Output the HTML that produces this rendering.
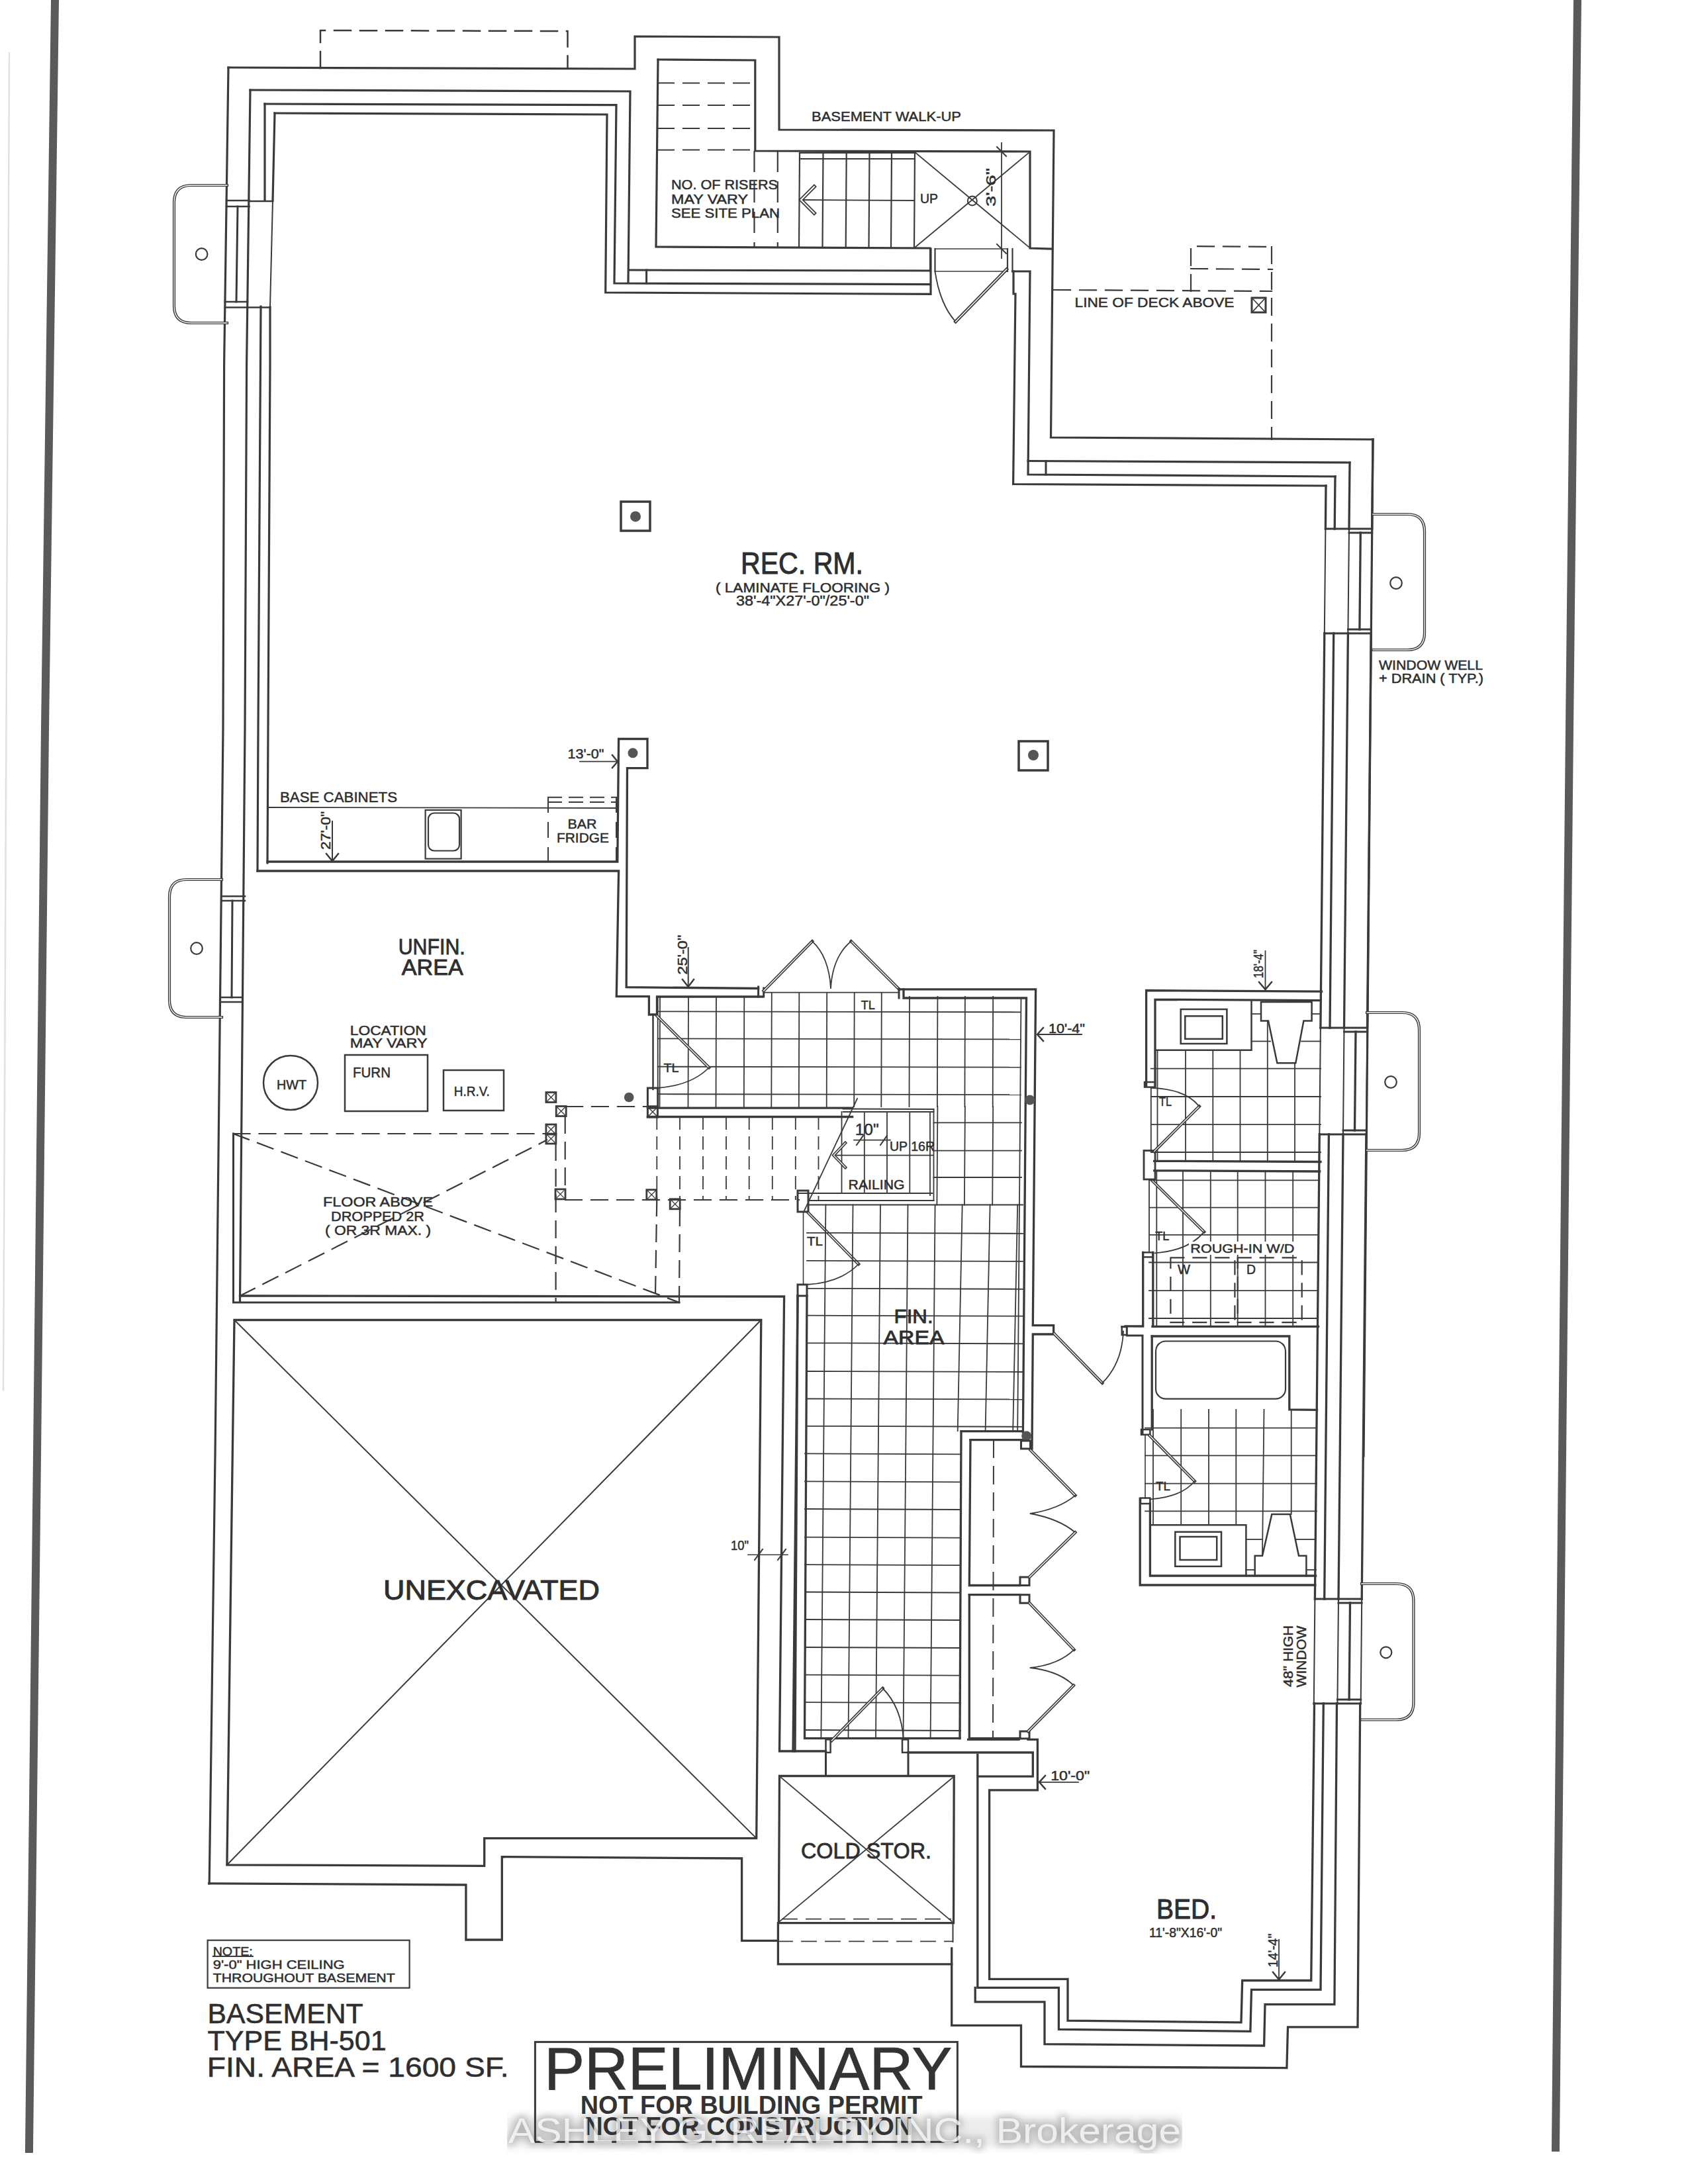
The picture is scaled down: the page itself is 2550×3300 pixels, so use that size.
<!DOCTYPE html>
<html><head><meta charset="utf-8"><style>
html,body{margin:0;padding:0;background:#fff;}
svg{display:block;}
text{font-family:"Liberation Sans",sans-serif;}
</style></head><body>
<svg width="2550" height="3300" viewBox="0 0 2550 3300" stroke-linecap="square">
<rect width="2550" height="3300" fill="#fff"/>
<path d="M83.0 0.0 L68.0 1100.0 L56.0 2200.0 L44.0 3247.0" stroke="#5a5a5a" stroke-width="12" fill="none"/>
<path d="M2383.0 0.0 L2371.0 1100.0 L2360.0 2200.0 L2350.0 3245.0" stroke="#5a5a5a" stroke-width="12" fill="none"/>
<path d="M14.0 80.0 L5.0 2100.0" stroke="#e0e0e0" stroke-width="2.5" fill="none"/>
<path d="M484.0 103.0 L484.0 46.0 L857.5 47.0 L857.5 103.0" stroke="#3a3a3a" stroke-width="2.5" fill="none" stroke-dasharray="25 14"/>
<path d="M345.0 102.0 L959.0 104.0 L959.0 55.0 L1177.0 56.0 L1177.0 196.0 L1592.0 197.0 L1587.5 661.0 L2074.0 664.0" stroke="#3a3a3a" stroke-width="3.2" fill="none"/>
<path d="M345.0 102.0 L338.6 550.0 L337.0 1100.0 L325.0 2200.0 L316.2 2846.0" stroke="#3a3a3a" stroke-width="3.2" fill="none"/>
<path d="M378.0 136.0 L952.0 138.0 L949.0 427.0" stroke="#3a3a3a" stroke-width="3.2" fill="none"/>
<path d="M950.0 408.0 L1405.0 409.0" stroke="#3a3a3a" stroke-width="3" fill="none"/>
<path d="M976.6 408.0 L976.6 428.0" stroke="#3a3a3a" stroke-width="3" fill="none"/>
<path d="M400.0 157.0 L931.0 158.6 L928.0 428.0 L1405.0 429.6" stroke="#3a3a3a" stroke-width="3.2" fill="none"/>
<path d="M415.0 171.0 L917.0 173.0 L914.7 442.0 L1406.0 444.4 L1406.0 376.0" stroke="#3a3a3a" stroke-width="3.2" fill="none"/>
<path d="M378.0 136.0 L372.6 550.0 L370.0 1100.0 L362.5 1966.0" stroke="#3a3a3a" stroke-width="3.2" fill="none"/>
<path d="M400.0 157.0 L400.0 303.0" stroke="#3a3a3a" stroke-width="3.2" fill="none"/>
<path d="M394.0 463.0 L390.0 1100.0 L389.0 1316.0" stroke="#3a3a3a" stroke-width="3.2" fill="none"/>
<path d="M415.0 171.0 L412.0 303.0" stroke="#3a3a3a" stroke-width="3.2" fill="none"/>
<path d="M412.0 303.0 L408.0 464.0" stroke="#3a3a3a" stroke-width="2" fill="none"/>
<path d="M408.0 464.0 L408.0 550.0 L405.0 1100.0 L404.0 1304.0" stroke="#3a3a3a" stroke-width="3.2" fill="none"/>
<path d="M342.0 303.0 L376.6 303.0" stroke="#3a3a3a" stroke-width="2.5" fill="none"/>
<path d="M342.0 312.0 L376.6 312.0" stroke="#3a3a3a" stroke-width="2.5" fill="none"/>
<path d="M376.6 304.0 L412.0 304.0" stroke="#3a3a3a" stroke-width="2.5" fill="none"/>
<path d="M340.0 456.0 L374.0 456.0" stroke="#3a3a3a" stroke-width="2.5" fill="none"/>
<path d="M340.0 464.5 L374.0 464.5" stroke="#3a3a3a" stroke-width="2.5" fill="none"/>
<path d="M374.0 464.5 L408.0 464.5" stroke="#3a3a3a" stroke-width="2.5" fill="none"/>
<path d="M359.0 312.0 L357.0 456.0" stroke="#3a3a3a" stroke-width="3" fill="none"/>
<path d="M343 280 L289 280 Q263 280 263 306 L263 462 Q263 488 289 488 L343 488" stroke="#3a3a3a" stroke-width="4.2" fill="none"/>
<path d="M343 280 L289 280 Q263 280 263 306 L263 462 Q263 488 289 488 L343 488" stroke="#fff" stroke-width="1.3" fill="none"/>
<circle cx="304.6" cy="384" r="8.8" stroke="#3a3a3a" stroke-width="2.2" fill="none"/>
<path d="M994.0 90.0 L1140.8 91.0 L1140.8 228.0 L1556.0 229.0 L1556.0 375.0 L1589.0 376.0" stroke="#3a3a3a" stroke-width="3.2" fill="none"/>
<path d="M994.0 90.0 L991.0 373.0 L1405.0 375.0" stroke="#3a3a3a" stroke-width="3.2" fill="none"/>
<path d="M994.0 125.4 L1140.0 125.4" stroke="#3a3a3a" stroke-width="2" fill="none" stroke-dasharray="24 14"/>
<path d="M994.0 159.0 L1140.0 159.0" stroke="#3a3a3a" stroke-width="2" fill="none" stroke-dasharray="24 14"/>
<path d="M994.0 194.0 L1140.0 194.0" stroke="#3a3a3a" stroke-width="2" fill="none" stroke-dasharray="24 14"/>
<path d="M994.0 226.6 L1140.0 226.6" stroke="#3a3a3a" stroke-width="2" fill="none" stroke-dasharray="24 14"/>
<path d="M1139.5 229.0 L1139.5 373.0" stroke="#3a3a3a" stroke-width="2.2" fill="none" stroke-dasharray="30 16"/>
<path d="M1174.8 229.0 L1174.8 373.0" stroke="#3a3a3a" stroke-width="2.2" fill="none" stroke-dasharray="30 16"/>
<path d="M1208.0 231.0 L1382.0 231.0" stroke="#3a3a3a" stroke-width="2.2" fill="none"/>
<path d="M1208.0 240.0 L1382.0 240.0" stroke="#3a3a3a" stroke-width="2.2" fill="none"/>
<path d="M1208.0 231.0 L1207.0 374.0" stroke="#3a3a3a" stroke-width="2.2" fill="none"/>
<path d="M1243.5 231.0 L1242.5 374.0" stroke="#3a3a3a" stroke-width="2.2" fill="none"/>
<path d="M1278.7 231.0 L1277.7 374.0" stroke="#3a3a3a" stroke-width="2.2" fill="none"/>
<path d="M1313.5 231.0 L1312.5 374.0" stroke="#3a3a3a" stroke-width="2.2" fill="none"/>
<path d="M1347.0 231.0 L1346.0 374.0" stroke="#3a3a3a" stroke-width="2.2" fill="none"/>
<path d="M1382.0 229.0 L1381.0 375.0" stroke="#3a3a3a" stroke-width="2.2" fill="none"/>
<path d="M1209.5 302.0 L1381.0 303.0" stroke="#3a3a3a" stroke-width="1.8" fill="none"/>
<path d="M1230.0 282.0 L1210.0 302.0 L1230.0 322.0" stroke="#3a3a3a" stroke-width="5.5" fill="none"/>
<path d="M1230.0 282.0 L1210.0 302.0 L1230.0 322.0" stroke="#fff" stroke-width="2" fill="none"/>
<path d="M1382.0 230.0 L1554.0 373.0" stroke="#3a3a3a" stroke-width="1.8" fill="none"/>
<path d="M1382.0 374.0 L1554.0 231.0" stroke="#3a3a3a" stroke-width="1.8" fill="none"/>
<circle cx="1468.8" cy="303.4" r="7" stroke="#3a3a3a" stroke-width="2" fill="none"/>
<text x="1390" y="307" font-size="20" text-anchor="start" fill="#2e2e2e" font-weight="normal" textLength="27" lengthAdjust="spacingAndGlyphs" stroke="#2e2e2e" stroke-width="0.5">UP</text>
<path d="M1513.0 216.0 L1513.0 390.0" stroke="#3a3a3a" stroke-width="1.8" fill="none"/>
<path d="M1506.0 222.0 L1520.0 236.0" stroke="#3a3a3a" stroke-width="2" fill="none"/>
<path d="M1506.0 369.0 L1520.0 383.0" stroke="#3a3a3a" stroke-width="2" fill="none"/>
<text x="1504" y="312" font-size="21" text-anchor="start" fill="#2e2e2e" font-weight="normal" textLength="58" lengthAdjust="spacingAndGlyphs" transform="rotate(-90 1504 312)" stroke="#2e2e2e" stroke-width="0.5">3'-6"</text>
<path d="M1405.0 376.0 L1405.0 410.0" stroke="#3a3a3a" stroke-width="2.2" fill="none"/>
<path d="M1412.5 376.0 L1412.5 410.0" stroke="#3a3a3a" stroke-width="2.2" fill="none"/>
<path d="M1522.0 376.0 L1522.0 410.0" stroke="#3a3a3a" stroke-width="2.2" fill="none"/>
<path d="M1529.5 376.0 L1529.5 410.0" stroke="#3a3a3a" stroke-width="2.2" fill="none"/>
<path d="M1412.5 410.0 L1522.0 410.0" stroke="#3a3a3a" stroke-width="1.6" fill="none"/>
<path d="M1412.5 376.0 L1522.0 376.0" stroke="#3a3a3a" stroke-width="1.6" fill="none"/>
<path d="M1529.5 410.0 L1556.0 410.0 L1553.0 717.0 L2017.0 720.0" stroke="#3a3a3a" stroke-width="3.2" fill="none"/>
<path d="M1531.0 410.0 L1531.0 444.0 L1534.0 444.0 L1530.6 731.5 L2003.0 734.0" stroke="#3a3a3a" stroke-width="3.2" fill="none"/>
<path d="M1553.0 696.5 L2039.0 699.0" stroke="#3a3a3a" stroke-width="3.2" fill="none"/>
<path d="M1580.0 696.5 L1580.0 717.0" stroke="#3a3a3a" stroke-width="3" fill="none"/>
<path d="M1412.5 410 Q1420 460 1443.6 486" stroke="#3a3a3a" stroke-width="1.8" fill="none"/>
<path d="M1443.6 486.0 L1520.6 407.0" stroke="#3a3a3a" stroke-width="5" fill="none"/>
<path d="M1443.6 486.0 L1520.6 407.0" stroke="#fff" stroke-width="1.5" fill="none"/>
<text x="1226" y="182.5" font-size="21" text-anchor="start" fill="#2e2e2e" font-weight="normal" textLength="226" lengthAdjust="spacingAndGlyphs" stroke="#2e2e2e" stroke-width="0.5">BASEMENT WALK-UP</text>
<text x="1014" y="286" font-size="20" text-anchor="start" fill="#2e2e2e" font-weight="normal" textLength="161" lengthAdjust="spacingAndGlyphs" stroke="#2e2e2e" stroke-width="0.5">NO. OF RISERS</text>
<text x="1014" y="308" font-size="20" text-anchor="start" fill="#2e2e2e" font-weight="normal" textLength="116" lengthAdjust="spacingAndGlyphs" stroke="#2e2e2e" stroke-width="0.5">MAY VARY</text>
<text x="1014" y="329" font-size="20" text-anchor="start" fill="#2e2e2e" font-weight="normal" textLength="164" lengthAdjust="spacingAndGlyphs" stroke="#2e2e2e" stroke-width="0.5">SEE SITE PLAN</text>
<text x="1623.5" y="463.5" font-size="21" text-anchor="start" fill="#2e2e2e" font-weight="normal" textLength="241" lengthAdjust="spacingAndGlyphs" stroke="#2e2e2e" stroke-width="0.5">LINE OF DECK ABOVE</text>
<path d="M1592.0 438.0 L1921.0 440.0" stroke="#3a3a3a" stroke-width="2.2" fill="none" stroke-dasharray="25 14"/>
<path d="M1921.0 373.0 L1921.0 664.0" stroke="#3a3a3a" stroke-width="2.2" fill="none" stroke-dasharray="25 14"/>
<path d="M1799.0 440.0 L1799.0 372.0 L1923.0 373.0" stroke="#3a3a3a" stroke-width="2.2" fill="none" stroke-dasharray="25 14"/>
<path d="M1799.0 406.0 L1922.0 407.0" stroke="#3a3a3a" stroke-width="2.2" fill="none" stroke-dasharray="25 14"/>
<rect x="1891" y="450" width="21" height="22" rx="0" stroke="#3a3a3a" stroke-width="3" fill="none"/>
<path d="M1893.0 452.0 L1910.0 470.0" stroke="#3a3a3a" stroke-width="1.6" fill="none"/>
<path d="M1910.0 452.0 L1893.0 470.0" stroke="#3a3a3a" stroke-width="1.6" fill="none"/>
<path d="M2074.0 664.0 L2070.0 1100.0 L2060.0 2200.0" stroke="#3a3a3a" stroke-width="3.2" fill="none"/>
<rect x="938" y="758" width="44" height="44" rx="0" stroke="#3a3a3a" stroke-width="3.5" fill="none"/>
<circle cx="960" cy="780.4" r="8" stroke="#3a3a3a" stroke-width="0" fill="#555"/>
<circle cx="956" cy="1137.8" r="7.5" stroke="#3a3a3a" stroke-width="0" fill="#555"/>
<rect x="1539" y="1120" width="44" height="44" rx="0" stroke="#3a3a3a" stroke-width="3.5" fill="none"/>
<circle cx="1561" cy="1141" r="8" stroke="#3a3a3a" stroke-width="0" fill="#555"/>
<text x="1119" y="867" font-size="46" text-anchor="start" fill="#2e2e2e" font-weight="normal" textLength="185" lengthAdjust="spacingAndGlyphs" stroke="#2e2e2e" stroke-width="1">REC. RM.</text>
<text x="1081" y="895" font-size="20" text-anchor="start" fill="#2e2e2e" font-weight="normal" textLength="263" lengthAdjust="spacingAndGlyphs" stroke="#2e2e2e" stroke-width="0.5">( LAMINATE FLOORING )</text>
<text x="1112" y="915" font-size="22" text-anchor="start" fill="#2e2e2e" font-weight="normal" textLength="201" lengthAdjust="spacingAndGlyphs" stroke="#2e2e2e" stroke-width="0.5">38'-4"X27'-0"/25'-0"</text>
<path d="M404.0 1302.0 L932.8 1302.0 L934.6 1116.5 L978.0 1116.5 L978.0 1160.6 L947.5 1160.6 L946.2 1491.6 L1145.6 1493.5" stroke="#3a3a3a" stroke-width="3.3" fill="none"/>
<path d="M389.0 1316.0 L934.6 1316.0 L931.3 1505.7 L980.4 1505.7 L980.4 1533.0 L992.5 1533.0 L992.5 1506.0 L1151.7 1506.0" stroke="#3a3a3a" stroke-width="3.3" fill="none"/>
<path d="M404.0 1220.0 L931.0 1221.0" stroke="#3a3a3a" stroke-width="1.8" fill="none"/>
<text x="423" y="1212" font-size="22" text-anchor="start" fill="#2e2e2e" font-weight="normal" textLength="177" lengthAdjust="spacingAndGlyphs" stroke="#2e2e2e" stroke-width="0.5">BASE CABINETS</text>
<rect x="642.6" y="1224" width="54" height="73.6" rx="0" stroke="#3a3a3a" stroke-width="2.2" fill="none"/>
<rect x="647" y="1228.5" width="47" height="57" rx="9" stroke="#3a3a3a" stroke-width="2.2" fill="none"/>
<text x="499" y="1284" font-size="21" text-anchor="start" fill="#2e2e2e" font-weight="normal" textLength="58" lengthAdjust="spacingAndGlyphs" transform="rotate(-90 499 1284)" stroke="#2e2e2e" stroke-width="0.5">27'-0"</text>
<path d="M502.0 1241.0 L502.0 1301.0" stroke="#3a3a3a" stroke-width="2" fill="none"/>
<path d="M493.0 1290.0 L502.0 1301.0 L511.0 1290.0" stroke="#3a3a3a" stroke-width="2.5" fill="none"/>
<text x="857.5" y="1146" font-size="21" text-anchor="start" fill="#2e2e2e" font-weight="normal" textLength="55" lengthAdjust="spacingAndGlyphs" stroke="#2e2e2e" stroke-width="0.5">13'-0"</text>
<path d="M876.0 1150.7 L932.0 1150.7" stroke="#3a3a3a" stroke-width="1.8" fill="none"/>
<path d="M925.0 1141.0 L933.0 1150.7 L925.0 1160.0" stroke="#3a3a3a" stroke-width="2.5" fill="none"/>
<path d="M828.0 1204.7 L931.0 1204.7" stroke="#3a3a3a" stroke-width="2" fill="none" stroke-dasharray="20 12"/>
<path d="M828.0 1212.0 L931.0 1212.0" stroke="#3a3a3a" stroke-width="2" fill="none" stroke-dasharray="20 12"/>
<path d="M828.0 1205.0 L828.0 1301.0" stroke="#3a3a3a" stroke-width="2" fill="none" stroke-dasharray="22 16"/>
<path d="M931.0 1205.0 L931.0 1301.0" stroke="#3a3a3a" stroke-width="2" fill="none" stroke-dasharray="22 16"/>
<text x="857.5" y="1252.4" font-size="21" text-anchor="start" fill="#2e2e2e" font-weight="normal" textLength="44" lengthAdjust="spacingAndGlyphs" stroke="#2e2e2e" stroke-width="0.5">BAR</text>
<text x="841" y="1273.4" font-size="21" text-anchor="start" fill="#2e2e2e" font-weight="normal" textLength="79" lengthAdjust="spacingAndGlyphs" stroke="#2e2e2e" stroke-width="0.5">FRIDGE</text>
<path d="M1145.6 1491.0 L1145.6 1506.0" stroke="#3a3a3a" stroke-width="3" fill="none"/>
<path d="M1153.7 1493.0 L1153.7 1506.0" stroke="#3a3a3a" stroke-width="3" fill="none"/>
<path d="M1153.7 1497.0 L1227.0 1422.3" stroke="#3a3a3a" stroke-width="4.5" fill="none"/>
<path d="M1153.7 1497.0 L1227.0 1422.3" stroke="#fff" stroke-width="1.3" fill="none"/>
<path d="M1285.8 1422.3 L1358.3 1494.8" stroke="#3a3a3a" stroke-width="4.5" fill="none"/>
<path d="M1285.8 1422.3 L1358.3 1494.8" stroke="#fff" stroke-width="1.3" fill="none"/>
<path d="M1227 1422.3 Q1252 1445 1255 1492.8" stroke="#3a3a3a" stroke-width="1.8" fill="none"/>
<path d="M1285.8 1422.3 Q1258 1445 1255 1492.8" stroke="#3a3a3a" stroke-width="1.8" fill="none"/>
<path d="M1153.7 1499.7 L1358.0 1499.7" stroke="#3a3a3a" stroke-width="1.8" fill="none"/>
<path d="M1358.0 1494.8 L1564.6 1494.8 L1560.3 2002.6 L1591.6 2002.6 L1591.6 2016.0 L1560.3 2016.0 L1559.0 2189.0" stroke="#3a3a3a" stroke-width="3.3" fill="none"/>
<path d="M1358.0 1494.0 L1358.0 1508.0" stroke="#3a3a3a" stroke-width="3" fill="none"/>
<path d="M1365.0 1494.8 L1365.0 1508.0 L1550.5 1508.0 L1545.4 2164.0" stroke="#3a3a3a" stroke-width="3.3" fill="none"/>
<path d="M1542.5 1508.0 L1537.2 2162.0" stroke="#3a3a3a" stroke-width="1.8" fill="none"/>
<text x="1038" y="1472.7" font-size="21" text-anchor="start" fill="#2e2e2e" font-weight="normal" textLength="60" lengthAdjust="spacingAndGlyphs" transform="rotate(-90 1038 1472.7)" stroke="#2e2e2e" stroke-width="0.5">25'-0"</text>
<path d="M1039.7 1432.0 L1039.7 1490.8" stroke="#3a3a3a" stroke-width="2" fill="none"/>
<path d="M1031.0 1480.0 L1039.7 1491.0 L1048.0 1480.0" stroke="#3a3a3a" stroke-width="2.5" fill="none"/>
<text x="1584" y="1561" font-size="20" text-anchor="start" fill="#2e2e2e" font-weight="normal" textLength="55" lengthAdjust="spacingAndGlyphs" stroke="#2e2e2e" stroke-width="0.5">10'-4"</text>
<path d="M1568.0 1563.0 L1634.0 1563.0" stroke="#3a3a3a" stroke-width="1.8" fill="none"/>
<path d="M1576.0 1553.0 L1567.0 1563.0 L1576.0 1573.0" stroke="#3a3a3a" stroke-width="2.5" fill="none"/>
<path d="M997.0 1506.0 L996.5 1672.0" stroke="#3a3a3a" stroke-width="1.8" fill="none"/>
<path d="M1040.0 1506.0 L1039.5 1672.0" stroke="#3a3a3a" stroke-width="1.8" fill="none"/>
<path d="M1082.0 1506.0 L1081.5 1672.0" stroke="#3a3a3a" stroke-width="1.8" fill="none"/>
<path d="M1124.3 1506.0 L1123.8 1672.0" stroke="#3a3a3a" stroke-width="1.8" fill="none"/>
<path d="M1165.8 1500.0 L1165.3 1672.0" stroke="#3a3a3a" stroke-width="1.8" fill="none"/>
<path d="M1207.3 1500.0 L1206.8 1672.0" stroke="#3a3a3a" stroke-width="1.8" fill="none"/>
<path d="M1249.2 1500.0 L1248.7 1672.0" stroke="#3a3a3a" stroke-width="1.8" fill="none"/>
<path d="M1290.7 1500.0 L1290.2 1672.0" stroke="#3a3a3a" stroke-width="1.8" fill="none"/>
<path d="M1331.8 1500.0 L1331.3 1672.0" stroke="#3a3a3a" stroke-width="1.8" fill="none"/>
<path d="M1374.0 1506.0 L1373.5 1672.0" stroke="#3a3a3a" stroke-width="1.8" fill="none"/>
<path d="M1416.4 1506.0 L1415.9 1672.0" stroke="#3a3a3a" stroke-width="1.8" fill="none"/>
<path d="M1457.9 1506.0 L1457.4 1672.0" stroke="#3a3a3a" stroke-width="1.8" fill="none"/>
<path d="M1500.2 1506.0 L1499.7 1672.0" stroke="#3a3a3a" stroke-width="1.8" fill="none"/>
<path d="M993.7 1528.3 L1542.0 1529.3" stroke="#3a3a3a" stroke-width="1.8" fill="none"/>
<path d="M993.7 1569.4 L1542.0 1570.4" stroke="#3a3a3a" stroke-width="1.8" fill="none"/>
<path d="M993.7 1611.7 L1542.0 1612.7" stroke="#3a3a3a" stroke-width="1.8" fill="none"/>
<path d="M993.7 1653.2 L1542.0 1654.2" stroke="#3a3a3a" stroke-width="1.8" fill="none"/>
<path d="M986.5 1533.0 L986.5 1646.0" stroke="#3a3a3a" stroke-width="2.5" fill="none"/>
<path d="M993.7 1506.0 L993.7 1646.0" stroke="#3a3a3a" stroke-width="1.8" fill="none"/>
<rect x="978.4" y="1644" width="15.3" height="28" rx="0" stroke="#3a3a3a" stroke-width="3" fill="none"/>
<path d="M992.5 1535.0 L1071.0 1613.0" stroke="#3a3a3a" stroke-width="4.5" fill="none"/>
<path d="M992.5 1535.0 L1071.0 1613.0" stroke="#fff" stroke-width="1.3" fill="none"/>
<path d="M1071 1613 Q1045 1640 993 1644" stroke="#3a3a3a" stroke-width="1.8" fill="none"/>
<text x="1002.6" y="1619.7" font-size="19" text-anchor="start" fill="#2e2e2e" font-weight="normal" textLength="23" lengthAdjust="spacingAndGlyphs" stroke="#2e2e2e" stroke-width="0.5">TL</text>
<text x="1300.7" y="1525" font-size="19" text-anchor="start" fill="#2e2e2e" font-weight="normal" textLength="21" lengthAdjust="spacingAndGlyphs" stroke="#2e2e2e" stroke-width="0.5">TL</text>
<circle cx="950.2" cy="1658" r="7.3" stroke="#3a3a3a" stroke-width="0" fill="#555"/>
<circle cx="1555.8" cy="1662" r="7.5" stroke="#3a3a3a" stroke-width="0" fill="#555"/>
<path d="M978.4 1674.2 L1287.6 1674.2" stroke="#3a3a3a" stroke-width="3.3" fill="none"/>
<path d="M978.4 1687.5 L1287.6 1687.5" stroke="#3a3a3a" stroke-width="3.3" fill="none"/>
<path d="M1273.6 1675.5 L1410.5 1676.0" stroke="#3a3a3a" stroke-width="1.8" fill="none"/>
<path d="M1273.6 1680.0 L1410.5 1680.0" stroke="#3a3a3a" stroke-width="1.8" fill="none"/>
<path d="M1410.5 1676.0 L1410.5 1814.0" stroke="#3a3a3a" stroke-width="1.8" fill="none"/>
<path d="M1405.0 1680.0 L1405.0 1806.0" stroke="#3a3a3a" stroke-width="1.8" fill="none"/>
<path d="M1207.0 1803.0 L1408.5 1803.0" stroke="#3a3a3a" stroke-width="1.8" fill="none"/>
<path d="M1221.0 1814.0 L1410.5 1814.0" stroke="#3a3a3a" stroke-width="1.8" fill="none"/>
<path d="M1271.5 1680.0 L1271.5 1803.0" stroke="#3a3a3a" stroke-width="1.8" fill="none"/>
<path d="M1305.8 1680.0 L1305.8 1803.0" stroke="#3a3a3a" stroke-width="1.8" fill="none"/>
<path d="M1340.0 1680.0 L1340.0 1803.0" stroke="#3a3a3a" stroke-width="1.8" fill="none"/>
<path d="M1374.3 1680.0 L1374.3 1803.0" stroke="#3a3a3a" stroke-width="1.8" fill="none"/>
<rect x="978.4" y="1672" width="15" height="16" rx="0" stroke="#3a3a3a" stroke-width="3" fill="none"/>
<path d="M979.0 1673.0 L993.0 1687.0" stroke="#3a3a3a" stroke-width="1.4" fill="none"/>
<path d="M993.0 1673.0 L979.0 1687.0" stroke="#3a3a3a" stroke-width="1.4" fill="none"/>
<path d="M992.3 1688.0 L992.3 1812.0" stroke="#3a3a3a" stroke-width="1.8" fill="none" stroke-dasharray="18 12"/>
<path d="M1027.0 1688.0 L1027.0 1812.0" stroke="#3a3a3a" stroke-width="1.8" fill="none" stroke-dasharray="18 12"/>
<path d="M1062.0 1688.0 L1062.0 1812.0" stroke="#3a3a3a" stroke-width="1.8" fill="none" stroke-dasharray="18 12"/>
<path d="M1097.0 1688.0 L1097.0 1812.0" stroke="#3a3a3a" stroke-width="1.8" fill="none" stroke-dasharray="18 12"/>
<path d="M1131.7 1688.0 L1131.7 1812.0" stroke="#3a3a3a" stroke-width="1.8" fill="none" stroke-dasharray="18 12"/>
<path d="M1166.8 1688.0 L1166.8 1812.0" stroke="#3a3a3a" stroke-width="1.8" fill="none" stroke-dasharray="18 12"/>
<path d="M1201.8 1688.0 L1201.8 1812.0" stroke="#3a3a3a" stroke-width="1.8" fill="none" stroke-dasharray="18 12"/>
<path d="M1236.5 1688.0 L1236.5 1812.0" stroke="#3a3a3a" stroke-width="1.8" fill="none" stroke-dasharray="18 12"/>
<path d="M1295.0 1660.0 L1215.0 1829.4" stroke="#3a3a3a" stroke-width="1.8" fill="none"/>
<text x="1291.7" y="1714.5" font-size="24" text-anchor="start" fill="#2e2e2e" font-weight="normal" textLength="36" lengthAdjust="spacingAndGlyphs" stroke="#2e2e2e" stroke-width="0.5">10"</text>
<path d="M1290.0 1722.6 L1345.0 1722.6" stroke="#3a3a3a" stroke-width="1.6" fill="none"/>
<path d="M1294.0 1730.0 L1304.0 1716.0" stroke="#3a3a3a" stroke-width="2" fill="none"/>
<path d="M1330.0 1730.0 L1340.0 1716.0" stroke="#3a3a3a" stroke-width="2" fill="none"/>
<text x="1344" y="1738.7" font-size="20" text-anchor="start" fill="#2e2e2e" font-weight="normal" textLength="68" lengthAdjust="spacingAndGlyphs" stroke="#2e2e2e" stroke-width="0.5">UP 16R</text>
<path d="M1259.4 1745.6 L1410.0 1745.6" stroke="#3a3a3a" stroke-width="1.6" fill="none"/>
<path d="M1277.0 1727.0 L1259.4 1745.6 L1277.0 1764.0" stroke="#3a3a3a" stroke-width="4.5" fill="none"/>
<path d="M1277.0 1727.0 L1259.4 1745.6 L1277.0 1764.0" stroke="#fff" stroke-width="1.3" fill="none"/>
<text x="1281.6" y="1797" font-size="20" text-anchor="start" fill="#2e2e2e" font-weight="normal" textLength="85" lengthAdjust="spacingAndGlyphs" stroke="#2e2e2e" stroke-width="0.5">RAILING</text>
<rect x="824.9" y="1650.5" width="15" height="15" rx="0" stroke="#3a3a3a" stroke-width="2.8" fill="none"/>
<path d="M826.9 1652.5 L837.9 1663.5" stroke="#3a3a3a" stroke-width="1.3" fill="none"/>
<path d="M837.9 1652.5 L826.9 1663.5" stroke="#3a3a3a" stroke-width="1.3" fill="none"/>
<rect x="840.2" y="1671.5" width="15" height="15" rx="0" stroke="#3a3a3a" stroke-width="2.8" fill="none"/>
<path d="M842.2 1673.5 L853.2 1684.5" stroke="#3a3a3a" stroke-width="1.3" fill="none"/>
<path d="M853.2 1673.5 L842.2 1684.5" stroke="#3a3a3a" stroke-width="1.3" fill="none"/>
<rect x="824.9" y="1699.0" width="15" height="15" rx="0" stroke="#3a3a3a" stroke-width="2.8" fill="none"/>
<path d="M826.9 1701.0 L837.9 1712.0" stroke="#3a3a3a" stroke-width="1.3" fill="none"/>
<path d="M837.9 1701.0 L826.9 1712.0" stroke="#3a3a3a" stroke-width="1.3" fill="none"/>
<rect x="824.9" y="1713.1" width="15" height="15" rx="0" stroke="#3a3a3a" stroke-width="2.8" fill="none"/>
<path d="M826.9 1715.1 L837.9 1726.1" stroke="#3a3a3a" stroke-width="1.3" fill="none"/>
<path d="M837.9 1715.1 L826.9 1726.1" stroke="#3a3a3a" stroke-width="1.3" fill="none"/>
<rect x="839.0" y="1796.9" width="15" height="15" rx="0" stroke="#3a3a3a" stroke-width="2.8" fill="none"/>
<path d="M841.0 1798.9 L852.0 1809.9" stroke="#3a3a3a" stroke-width="1.3" fill="none"/>
<path d="M852.0 1798.9 L841.0 1809.9" stroke="#3a3a3a" stroke-width="1.3" fill="none"/>
<rect x="976.8" y="1797.7" width="15" height="15" rx="0" stroke="#3a3a3a" stroke-width="2.8" fill="none"/>
<path d="M978.8 1799.7 L989.8 1810.7" stroke="#3a3a3a" stroke-width="1.3" fill="none"/>
<path d="M989.8 1799.7 L978.8 1810.7" stroke="#3a3a3a" stroke-width="1.3" fill="none"/>
<rect x="1012.2" y="1811.8" width="15" height="15" rx="0" stroke="#3a3a3a" stroke-width="2.8" fill="none"/>
<path d="M1014.2 1813.8 L1025.2 1824.8" stroke="#3a3a3a" stroke-width="1.3" fill="none"/>
<path d="M1025.2 1813.8 L1014.2 1824.8" stroke="#3a3a3a" stroke-width="1.3" fill="none"/>
<rect x="1205" y="1799" width="16" height="32" rx="0" stroke="#3a3a3a" stroke-width="3" fill="none"/>
<path d="M1221.0 1832.6 L1297.0 1910.0" stroke="#3a3a3a" stroke-width="4.5" fill="none"/>
<path d="M1221.0 1832.6 L1297.0 1910.0" stroke="#fff" stroke-width="1.3" fill="none"/>
<path d="M1297 1910 Q1270 1938 1219 1941" stroke="#3a3a3a" stroke-width="1.8" fill="none"/>
<text x="1219" y="1881.7" font-size="19" text-anchor="start" fill="#2e2e2e" font-weight="normal" textLength="24" lengthAdjust="spacingAndGlyphs" stroke="#2e2e2e" stroke-width="0.5">TL</text>
<path d="M1213.5 1831.0 L1213.5 1941.0" stroke="#3a3a3a" stroke-width="1.6" fill="none"/>
<rect x="1205" y="1941" width="14" height="17" rx="0" stroke="#3a3a3a" stroke-width="3" fill="none"/>
<path d="M1205.0 1958.0 L1201.0 2646.0" stroke="#3a3a3a" stroke-width="3.3" fill="none"/>
<path d="M1219.0 1958.0 L1215.5 2626.6 L1450.0 2626.6" stroke="#3a3a3a" stroke-width="3.3" fill="none"/>
<path d="M1247.4 1820.5 L1240.4 2626.0" stroke="#3a3a3a" stroke-width="1.8" fill="none"/>
<path d="M1288.5 1820.5 L1281.5 2626.0" stroke="#3a3a3a" stroke-width="1.8" fill="none"/>
<path d="M1330.0 1820.5 L1323.0 2626.0" stroke="#3a3a3a" stroke-width="1.8" fill="none"/>
<path d="M1371.5 1820.5 L1364.5 2626.0" stroke="#3a3a3a" stroke-width="1.8" fill="none"/>
<path d="M1412.6 1820.5 L1405.6 2626.0" stroke="#3a3a3a" stroke-width="1.8" fill="none"/>
<path d="M1453.7 1820.5 L1446.7 2162.0" stroke="#3a3a3a" stroke-width="1.8" fill="none"/>
<path d="M1495.6 1820.5 L1488.6 2162.0" stroke="#3a3a3a" stroke-width="1.8" fill="none"/>
<path d="M1537.2 1820.5 L1530.2 2162.0" stroke="#3a3a3a" stroke-width="1.8" fill="none"/>
<path d="M1221.0 1820.5 L1545.0 1820.5" stroke="#3a3a3a" stroke-width="1.8" fill="none"/>
<path d="M1219.0 1862.8 L1545.0 1863.8" stroke="#3a3a3a" stroke-width="1.8" fill="none"/>
<path d="M1219.0 1904.9 L1545.0 1905.9" stroke="#3a3a3a" stroke-width="1.8" fill="none"/>
<path d="M1219.0 1946.8 L1545.0 1947.8" stroke="#3a3a3a" stroke-width="1.8" fill="none"/>
<path d="M1219.0 1987.7 L1545.0 1988.7" stroke="#3a3a3a" stroke-width="1.8" fill="none"/>
<path d="M1219.0 2029.3 L1545.0 2030.3" stroke="#3a3a3a" stroke-width="1.8" fill="none"/>
<path d="M1219.0 2072.0 L1545.0 2073.0" stroke="#3a3a3a" stroke-width="1.8" fill="none"/>
<path d="M1219.0 2113.5 L1545.0 2114.5" stroke="#3a3a3a" stroke-width="1.8" fill="none"/>
<path d="M1219.0 2154.8 L1545.0 2155.8" stroke="#3a3a3a" stroke-width="1.8" fill="none"/>
<path d="M1216.0 2196.4 L1451.0 2197.4" stroke="#3a3a3a" stroke-width="1.8" fill="none"/>
<path d="M1216.0 2238.3 L1451.0 2239.3" stroke="#3a3a3a" stroke-width="1.8" fill="none"/>
<path d="M1216.0 2280.0 L1451.0 2281.0" stroke="#3a3a3a" stroke-width="1.8" fill="none"/>
<path d="M1216.0 2322.7 L1451.0 2323.7" stroke="#3a3a3a" stroke-width="1.8" fill="none"/>
<path d="M1216.0 2364.2 L1451.0 2365.2" stroke="#3a3a3a" stroke-width="1.8" fill="none"/>
<path d="M1216.0 2405.5 L1451.0 2406.5" stroke="#3a3a3a" stroke-width="1.8" fill="none"/>
<path d="M1216.0 2447.0 L1451.0 2448.0" stroke="#3a3a3a" stroke-width="1.8" fill="none"/>
<path d="M1216.0 2489.0 L1451.0 2490.0" stroke="#3a3a3a" stroke-width="1.8" fill="none"/>
<path d="M1216.0 2530.6 L1451.0 2531.6" stroke="#3a3a3a" stroke-width="1.8" fill="none"/>
<path d="M1216.0 2572.2 L1451.0 2573.2" stroke="#3a3a3a" stroke-width="1.8" fill="none"/>
<path d="M1216.0 2614.0 L1451.0 2615.0" stroke="#3a3a3a" stroke-width="1.8" fill="none"/>
<text x="1350.6" y="1999" font-size="29" text-anchor="start" fill="#2e2e2e" font-weight="normal" textLength="59" lengthAdjust="spacingAndGlyphs" stroke="#2e2e2e" stroke-width="0.8">FIN.</text>
<text x="1334.6" y="2031" font-size="29" text-anchor="start" fill="#2e2e2e" font-weight="normal" textLength="92" lengthAdjust="spacingAndGlyphs" stroke="#2e2e2e" stroke-width="0.8">AREA</text>
<path d="M1452.0 2162.6 L1545.4 2162.6" stroke="#3a3a3a" stroke-width="3.3" fill="none"/>
<path d="M1452.0 2162.6 L1450.0 2626.6" stroke="#3a3a3a" stroke-width="3.3" fill="none"/>
<path d="M1466.0 2175.7 L1545.0 2175.7" stroke="#3a3a3a" stroke-width="3.3" fill="none"/>
<path d="M1466.0 2175.7 L1464.3 2395.5 L1540.8 2395.5" stroke="#3a3a3a" stroke-width="3.3" fill="none"/>
<path d="M1464.3 2409.7 L1540.8 2409.7" stroke="#3a3a3a" stroke-width="3.3" fill="none"/>
<path d="M1464.3 2409.7 L1464.3 2626.6 L1540.8 2626.6" stroke="#3a3a3a" stroke-width="3.3" fill="none"/>
<path d="M1501.0 2176.0 L1500.0 2626.0" stroke="#3a3a3a" stroke-width="2" fill="none" stroke-dasharray="26 14"/>
<circle cx="1550.7" cy="2169.7" r="7.5" stroke="#3a3a3a" stroke-width="0" fill="#555"/>
<rect x="1542.5" y="2177" width="14" height="12" rx="0" stroke="#3a3a3a" stroke-width="3" fill="none"/>
<rect x="1541" y="2383" width="14" height="12.5" rx="0" stroke="#3a3a3a" stroke-width="3" fill="none"/>
<rect x="1541" y="2409.7" width="14" height="12.5" rx="0" stroke="#3a3a3a" stroke-width="3" fill="none"/>
<rect x="1541" y="2616" width="14" height="11" rx="0" stroke="#3a3a3a" stroke-width="3" fill="none"/>
<path d="M1556.7 2191.0 L1624.3 2259.6" stroke="#3a3a3a" stroke-width="4.5" fill="none"/>
<path d="M1556.7 2191.0 L1624.3 2259.6" stroke="#fff" stroke-width="1.3" fill="none"/>
<path d="M1624.3 2259.6 Q1600 2280 1556.7 2287" stroke="#3a3a3a" stroke-width="1.8" fill="none"/>
<path d="M1556.7 2287 Q1600 2295 1624.3 2315.5" stroke="#3a3a3a" stroke-width="1.8" fill="none"/>
<path d="M1555.0 2383.0 L1624.3 2315.5" stroke="#3a3a3a" stroke-width="4.5" fill="none"/>
<path d="M1555.0 2383.0 L1624.3 2315.5" stroke="#fff" stroke-width="1.3" fill="none"/>
<path d="M1555.0 2422.0 L1622.5 2492.6" stroke="#3a3a3a" stroke-width="4.5" fill="none"/>
<path d="M1555.0 2422.0 L1622.5 2492.6" stroke="#fff" stroke-width="1.3" fill="none"/>
<path d="M1622.5 2492.6 Q1600 2515 1556.7 2520" stroke="#3a3a3a" stroke-width="1.8" fill="none"/>
<path d="M1556.7 2520 Q1600 2525 1621.8 2546.6" stroke="#3a3a3a" stroke-width="1.8" fill="none"/>
<path d="M1621.8 2546.6 L1553.2 2616.0" stroke="#3a3a3a" stroke-width="4.5" fill="none"/>
<path d="M1621.8 2546.6 L1553.2 2616.0" stroke="#fff" stroke-width="1.3" fill="none"/>
<path d="M1592.3 2015.0 L1665.2 2089.7" stroke="#3a3a3a" stroke-width="4.5" fill="none"/>
<path d="M1592.3 2015.0 L1665.2 2089.7" stroke="#fff" stroke-width="1.3" fill="none"/>
<path d="M1665.2 2089.7 Q1695 2060 1697 2011.5" stroke="#3a3a3a" stroke-width="1.8" fill="none"/>
<path d="M1416.4 1672.0 L1415.4 1820.5" stroke="#3a3a3a" stroke-width="1.8" fill="none"/>
<path d="M1457.9 1672.0 L1456.9 1820.5" stroke="#3a3a3a" stroke-width="1.8" fill="none"/>
<path d="M1500.2 1672.0 L1499.2 1820.5" stroke="#3a3a3a" stroke-width="1.8" fill="none"/>
<path d="M1410.5 1696.4 L1543.0 1696.4" stroke="#3a3a3a" stroke-width="1.8" fill="none"/>
<path d="M1410.5 1738.7 L1543.0 1738.7" stroke="#3a3a3a" stroke-width="1.8" fill="none"/>
<path d="M1410.5 1779.0 L1543.0 1779.0" stroke="#3a3a3a" stroke-width="1.8" fill="none"/>
<path d="M336.4 1354.3 L370.0 1354.3" stroke="#3a3a3a" stroke-width="2.5" fill="none"/>
<path d="M336.0 1361.0 L370.0 1361.0" stroke="#3a3a3a" stroke-width="2.5" fill="none"/>
<path d="M333.3 1507.0 L366.6 1507.0" stroke="#3a3a3a" stroke-width="2.5" fill="none"/>
<path d="M333.3 1514.0 L366.6 1514.0" stroke="#3a3a3a" stroke-width="2.5" fill="none"/>
<path d="M351.0 1361.0 L350.0 1507.0" stroke="#3a3a3a" stroke-width="3" fill="none"/>
<path d="M335 1329 L282 1329 Q256 1329 256 1355 L256 1511 Q256 1537 282 1537 L335 1537" stroke="#3a3a3a" stroke-width="4.2" fill="none"/>
<path d="M335 1329 L282 1329 Q256 1329 256 1355 L256 1511 Q256 1537 282 1537 L335 1537" stroke="#fff" stroke-width="1.3" fill="none"/>
<circle cx="297" cy="1433" r="8.8" stroke="#3a3a3a" stroke-width="2.2" fill="none"/>
<text x="601.7" y="1442.4" font-size="34" text-anchor="start" fill="#2e2e2e" font-weight="normal" textLength="101" lengthAdjust="spacingAndGlyphs" stroke="#2e2e2e" stroke-width="0.9">UNFIN.</text>
<text x="606.7" y="1472.6" font-size="34" text-anchor="start" fill="#2e2e2e" font-weight="normal" textLength="93" lengthAdjust="spacingAndGlyphs" stroke="#2e2e2e" stroke-width="0.9">AREA</text>
<text x="528.7" y="1564" font-size="21" text-anchor="start" fill="#2e2e2e" font-weight="normal" textLength="115" lengthAdjust="spacingAndGlyphs" stroke="#2e2e2e" stroke-width="0.5">LOCATION</text>
<text x="528.7" y="1583" font-size="21" text-anchor="start" fill="#2e2e2e" font-weight="normal" textLength="117" lengthAdjust="spacingAndGlyphs" stroke="#2e2e2e" stroke-width="0.5">MAY VARY</text>
<circle cx="439" cy="1636" r="41" stroke="#3a3a3a" stroke-width="2.5" fill="none"/>
<text x="418" y="1646" font-size="20" text-anchor="start" fill="#2e2e2e" font-weight="normal" textLength="45" lengthAdjust="spacingAndGlyphs" stroke="#2e2e2e" stroke-width="0.5">HWT</text>
<rect x="521" y="1594" width="125" height="85" rx="0" stroke="#3a3a3a" stroke-width="2.5" fill="none"/>
<text x="533" y="1628" font-size="22" text-anchor="start" fill="#2e2e2e" font-weight="normal" textLength="57" lengthAdjust="spacingAndGlyphs" stroke="#2e2e2e" stroke-width="0.5">FURN</text>
<rect x="670" y="1617" width="91" height="61" rx="0" stroke="#3a3a3a" stroke-width="2.5" fill="none"/>
<text x="685.8" y="1656" font-size="20" text-anchor="start" fill="#2e2e2e" font-weight="normal" textLength="54" lengthAdjust="spacingAndGlyphs" stroke="#2e2e2e" stroke-width="0.5">H.R.V.</text>
<path d="M352.5 1713.0 L825.0 1713.0" stroke="#3a3a3a" stroke-width="2.2" fill="none" stroke-dasharray="25 14"/>
<path d="M855.0 1672.0 L977.0 1672.0" stroke="#3a3a3a" stroke-width="2.2" fill="none" stroke-dasharray="25 14"/>
<path d="M839.6 1728.0 L839.6 1968.0" stroke="#3a3a3a" stroke-width="2.2" fill="none" stroke-dasharray="25 14"/>
<path d="M853.7 1687.0 L853.7 1797.0" stroke="#3a3a3a" stroke-width="2.2" fill="none" stroke-dasharray="25 14"/>
<path d="M854.0 1813.0 L1207.0 1813.0" stroke="#3a3a3a" stroke-width="2.2" fill="none" stroke-dasharray="25 14"/>
<path d="M992.3 1812.0 L990.0 1958.0" stroke="#3a3a3a" stroke-width="2.2" fill="none" stroke-dasharray="25 14"/>
<path d="M1027.0 1827.0 L1026.0 1968.0" stroke="#3a3a3a" stroke-width="2.2" fill="none" stroke-dasharray="25 14"/>
<path d="M352.5 1713.0 L1026.0 1968.0" stroke="#3a3a3a" stroke-width="2.2" fill="none" stroke-dasharray="25 14"/>
<path d="M362.5 1958.0 L826.0 1722.6" stroke="#3a3a3a" stroke-width="2.2" fill="none" stroke-dasharray="25 14"/>
<path d="M352.5 1713.0 L352.5 1968.0 L1026.0 1968.0" stroke="#3a3a3a" stroke-width="3" fill="none"/>
<path d="M362.5 1958.0 L1184.6 1959.0 L1177.5 2646.0 L1247.5 2646.0" stroke="#3a3a3a" stroke-width="3.3" fill="none"/>
<text x="488" y="1823" font-size="21" text-anchor="start" fill="#2e2e2e" font-weight="normal" textLength="166" lengthAdjust="spacingAndGlyphs" stroke="#2e2e2e" stroke-width="0.5">FLOOR ABOVE</text>
<text x="500" y="1845" font-size="21" text-anchor="start" fill="#2e2e2e" font-weight="normal" textLength="141" lengthAdjust="spacingAndGlyphs" stroke="#2e2e2e" stroke-width="0.5">DROPPED 2R</text>
<text x="491" y="1866" font-size="21" text-anchor="start" fill="#2e2e2e" font-weight="normal" textLength="160" lengthAdjust="spacingAndGlyphs" stroke="#2e2e2e" stroke-width="0.5">( OR 3R MAX. )</text>
<path d="M354.0 1994.5 L1149.8 1994.5 L1142.7 2777.7 L731.7 2777.7 L731.7 2819.3 L342.9 2817.8 L354.0 1994.5" stroke="#3a3a3a" stroke-width="3.3" fill="none"/>
<path d="M354.0 1994.5 L1142.7 2777.7" stroke="#3a3a3a" stroke-width="2" fill="none"/>
<path d="M342.9 2817.8 L1149.8 1994.5" stroke="#3a3a3a" stroke-width="2" fill="none"/>
<path d="M315.7 2845.9 L703.9 2848.0 L703.9 2931.0 L758.3 2931.0 L758.3 2805.7 L1120.6 2808.0 L1120.6 2932.4 L1174.6 2932.4" stroke="#3a3a3a" stroke-width="3.3" fill="none"/>
<text x="579" y="2416.5" font-size="42" text-anchor="start" fill="#2e2e2e" font-weight="normal" textLength="327" lengthAdjust="spacingAndGlyphs" stroke="#2e2e2e" stroke-width="1">UNEXCAVATED</text>
<text x="1104" y="2342" font-size="21" text-anchor="start" fill="#2e2e2e" font-weight="normal" textLength="27" lengthAdjust="spacingAndGlyphs" stroke="#2e2e2e" stroke-width="0.5">10"</text>
<path d="M1130.0 2349.3 L1190.0 2349.3" stroke="#3a3a3a" stroke-width="1.6" fill="none"/>
<path d="M1140.0 2357.0 L1152.0 2341.0" stroke="#3a3a3a" stroke-width="2" fill="none"/>
<path d="M1175.0 2357.0 L1187.0 2341.0" stroke="#3a3a3a" stroke-width="2" fill="none"/>
<path d="M1198.0 2646.0 L1205.0 1958.0" stroke="#3a3a3a" stroke-width="3.3" fill="none"/>
<path d="M1247.5 2648.0 L1247.5 2683.5" stroke="#3a3a3a" stroke-width="3" fill="none"/>
<path d="M1372.0 2648.0 L1372.0 2683.5" stroke="#3a3a3a" stroke-width="3" fill="none"/>
<rect x="1247.5" y="2628.4" width="7.1" height="19.6" rx="0" stroke="#3a3a3a" stroke-width="2.5" fill="none"/>
<rect x="1363" y="2628.4" width="9" height="19.6" rx="0" stroke="#3a3a3a" stroke-width="2.5" fill="none"/>
<path d="M1372.0 2648.0 L1560.3 2648.0 L1560.3 2684.2 L1476.8 2684.2" stroke="#3a3a3a" stroke-width="3.3" fill="none"/>
<path d="M1177.5 2683.5 L1441.2 2683.5 L1440.5 2905.7 L1176.4 2905.7 L1177.5 2683.5" stroke="#3a3a3a" stroke-width="3.3" fill="none"/>
<path d="M1180.0 2686.0 L1437.7 2903.0" stroke="#3a3a3a" stroke-width="1.8" fill="none"/>
<path d="M1439.0 2686.0 L1178.0 2903.0" stroke="#3a3a3a" stroke-width="1.8" fill="none"/>
<path d="M1182.0 2899.6 L1436.0 2899.6" stroke="#3a3a3a" stroke-width="1.8" fill="none" stroke-dasharray="22 14"/>
<path d="M1175.4 2905.7 L1175.4 2967.9 L1437.7 2967.9" stroke="#3a3a3a" stroke-width="3.3" fill="none"/>
<path d="M1175.0 2933.4 L1439.0 2933.4" stroke="#3a3a3a" stroke-width="1.8" fill="none" stroke-dasharray="22 14"/>
<path d="M1439.5 2905.7 L1439.5 2934.0" stroke="#3a3a3a" stroke-width="2" fill="none"/>
<text x="1210" y="2808" font-size="33" text-anchor="start" fill="#2e2e2e" font-weight="normal" textLength="197" lengthAdjust="spacingAndGlyphs" stroke="#2e2e2e" stroke-width="0.8">COLD STOR.</text>
<path d="M1256.4 2630.0 L1333.5 2551.0" stroke="#3a3a3a" stroke-width="4.5" fill="none"/>
<path d="M1256.4 2630.0 L1333.5 2551.0" stroke="#fff" stroke-width="1.3" fill="none"/>
<path d="M1333.5 2551 Q1362 2580 1364.8 2628.3" stroke="#3a3a3a" stroke-width="1.8" fill="none"/>
<path d="M1462.6 2628.4 L1539.0 2628.4" stroke="#3a3a3a" stroke-width="3.3" fill="none"/>
<path d="M1553.0 2628.4 L1567.4 2628.4 L1567.4 2704.9 L1494.6 2704.9 L1494.6 2990.3 L1613.0 2990.3 L1613.0 3053.2 L1875.0 3055.8 L1876.7 2992.5 L1980.7 2992.5 L1985.5 2574.0" stroke="#3a3a3a" stroke-width="3.3" fill="none"/>
<path d="M1476.8 2651.5 L1476.8 3003.4 L1599.4 3003.4 L1599.4 3066.4 L1888.9 3069.3 L1890.5 3006.3 L1995.0 3006.3 L1999.3 2574.0" stroke="#3a3a3a" stroke-width="3.3" fill="none"/>
<path d="M1473.2 3003.4 L1473.2 3024.8 L1578.0 3024.8 L1578.0 3088.7 L1909.6 3091.0 L1911.0 3028.6 L2015.9 3028.6 L2019.5 2574.0" stroke="#3a3a3a" stroke-width="3.3" fill="none"/>
<path d="M1437.7 2944.0 L1437.7 3060.3 L1542.5 3060.3 L1542.5 3122.5 L1943.9 3124.6 L1945.5 3062.9 L2051.0 3062.9 L2054.7 2574.0" stroke="#3a3a3a" stroke-width="3.3" fill="none"/>
<text x="1747" y="2898.5" font-size="42" text-anchor="start" fill="#2e2e2e" font-weight="normal" textLength="91" lengthAdjust="spacingAndGlyphs" stroke="#2e2e2e" stroke-width="1">BED.</text>
<text x="1736" y="2927.2" font-size="21" text-anchor="start" fill="#2e2e2e" font-weight="normal" textLength="110" lengthAdjust="spacingAndGlyphs" stroke="#2e2e2e" stroke-width="0.5">11'-8"X16'-0"</text>
<text x="1930" y="2972.7" font-size="21" text-anchor="start" fill="#2e2e2e" font-weight="normal" textLength="51" lengthAdjust="spacingAndGlyphs" transform="rotate(-90 1930 2972.7)" stroke="#2e2e2e" stroke-width="0.5">14'-4"</text>
<path d="M1932.0 2931.0 L1932.0 2990.0" stroke="#3a3a3a" stroke-width="1.8" fill="none"/>
<path d="M1923.0 2980.0 L1932.0 2991.0 L1941.0 2980.0" stroke="#3a3a3a" stroke-width="2.5" fill="none"/>
<text x="1587.2" y="2689.6" font-size="20" text-anchor="start" fill="#2e2e2e" font-weight="normal" textLength="59" lengthAdjust="spacingAndGlyphs" stroke="#2e2e2e" stroke-width="0.5">10'-0"</text>
<path d="M1570.0 2692.8 L1629.0 2692.8" stroke="#3a3a3a" stroke-width="1.8" fill="none"/>
<path d="M1579.0 2683.0 L1570.0 2692.8 L1579.0 2703.0" stroke="#3a3a3a" stroke-width="2.5" fill="none"/>
<path d="M2074.0 664.0 L2072.7 799.0" stroke="#3a3a3a" stroke-width="3.3" fill="none"/>
<path d="M2072.7 799.0 L2071.2 957.0" stroke="#3a3a3a" stroke-width="2" fill="none"/>
<path d="M2071.2 957.0 L2065.5 1553.0" stroke="#3a3a3a" stroke-width="3.3" fill="none"/>
<path d="M2065.5 1553.0 L2063.9 1714.0" stroke="#3a3a3a" stroke-width="2" fill="none"/>
<path d="M2063.9 1714.0 L2057.2 2416.0" stroke="#3a3a3a" stroke-width="3.3" fill="none"/>
<path d="M2057.2 2416.0 L2055.7 2574.0" stroke="#3a3a3a" stroke-width="2" fill="none"/>
<path d="M2003.0 734.0 L2002.4 799.0" stroke="#3a3a3a" stroke-width="3.3" fill="none"/>
<path d="M2002.4 799.0 L2000.8 957.0" stroke="#3a3a3a" stroke-width="2" fill="none"/>
<path d="M2000.8 957.0 L1994.9 1553.0" stroke="#3a3a3a" stroke-width="3.3" fill="none"/>
<path d="M1994.9 1553.0 L1993.3 1714.0" stroke="#3a3a3a" stroke-width="2" fill="none"/>
<path d="M1993.3 1714.0 L1986.4 2416.0" stroke="#3a3a3a" stroke-width="3.3" fill="none"/>
<path d="M1986.4 2416.0 L1984.8 2574.0" stroke="#3a3a3a" stroke-width="2" fill="none"/>
<path d="M2017.0 720.0 L2016.2 799.0" stroke="#3a3a3a" stroke-width="3.3" fill="none"/>
<path d="M2014.7 957.0 L2009.0 1553.0" stroke="#3a3a3a" stroke-width="3.3" fill="none"/>
<path d="M2007.4 1714.0 L2000.7 2416.0" stroke="#3a3a3a" stroke-width="3.3" fill="none"/>
<path d="M2039.0 699.0 L2038.0 799.0" stroke="#3a3a3a" stroke-width="3.3" fill="none"/>
<path d="M2038.0 799.0 L2036.4 957.0" stroke="#3a3a3a" stroke-width="2" fill="none"/>
<path d="M2036.4 957.0 L2030.5 1553.0" stroke="#3a3a3a" stroke-width="3.3" fill="none"/>
<path d="M2030.5 1553.0 L2029.0 1714.0" stroke="#3a3a3a" stroke-width="2" fill="none"/>
<path d="M2029.0 1714.0 L2022.0 2416.0" stroke="#3a3a3a" stroke-width="3.3" fill="none"/>
<path d="M2022.0 2416.0 L2020.4 2574.0" stroke="#3a3a3a" stroke-width="2" fill="none"/>
<path d="M2002.4 799.0 L2038.0 799.0" stroke="#3a3a3a" stroke-width="3" fill="none"/>
<path d="M2038.0 799.0 L2072.7 799.0" stroke="#3a3a3a" stroke-width="3" fill="none"/>
<path d="M2038.0 805.0 L2072.6 805.0" stroke="#3a3a3a" stroke-width="3" fill="none"/>
<path d="M2000.8 957.0 L2036.4 957.0" stroke="#3a3a3a" stroke-width="3" fill="none"/>
<path d="M2036.4 957.0 L2071.2 957.0" stroke="#3a3a3a" stroke-width="3" fill="none"/>
<path d="M2036.5 951.0 L2071.2 951.0" stroke="#3a3a3a" stroke-width="3" fill="none"/>
<path d="M2055.3 805.0 L2053.9 951.0" stroke="#3a3a3a" stroke-width="3.3" fill="none"/>
<path d="M1994.9 1553.0 L2030.5 1553.0" stroke="#3a3a3a" stroke-width="3" fill="none"/>
<path d="M2030.5 1553.0 L2065.5 1553.0" stroke="#3a3a3a" stroke-width="3" fill="none"/>
<path d="M2030.5 1559.0 L2065.4 1559.0" stroke="#3a3a3a" stroke-width="3" fill="none"/>
<path d="M1993.3 1714.0 L2029.0 1714.0" stroke="#3a3a3a" stroke-width="3" fill="none"/>
<path d="M2029.0 1714.0 L2063.9 1714.0" stroke="#3a3a3a" stroke-width="3" fill="none"/>
<path d="M2029.0 1708.0 L2064.0 1708.0" stroke="#3a3a3a" stroke-width="3" fill="none"/>
<path d="M2048.0 1559.0 L2046.5 1708.0" stroke="#3a3a3a" stroke-width="3.3" fill="none"/>
<path d="M1986.4 2416.0 L2022.0 2416.0" stroke="#3a3a3a" stroke-width="3" fill="none"/>
<path d="M2022.0 2416.0 L2057.2 2416.0" stroke="#3a3a3a" stroke-width="3" fill="none"/>
<path d="M2021.9 2422.0 L2057.1 2422.0" stroke="#3a3a3a" stroke-width="3" fill="none"/>
<path d="M1984.8 2574.0 L2020.4 2574.0" stroke="#3a3a3a" stroke-width="3" fill="none"/>
<path d="M2020.4 2574.0 L2055.7 2574.0" stroke="#3a3a3a" stroke-width="3" fill="none"/>
<path d="M2020.5 2568.0 L2055.7 2568.0" stroke="#3a3a3a" stroke-width="3" fill="none"/>
<path d="M2039.5 2422.0 L2038.1 2568.0" stroke="#3a3a3a" stroke-width="3.3" fill="none"/>
<path d="M2074 777 L2126 777 Q2152 777 2152 803 L2152 956 Q2152 982 2126 982 L2074 982" stroke="#3a3a3a" stroke-width="4.2" fill="none"/>
<path d="M2074 777 L2126 777 Q2152 777 2152 803 L2152 956 Q2152 982 2126 982 L2074 982" stroke="#fff" stroke-width="1.3" fill="none"/>
<circle cx="2109" cy="881" r="8.8" stroke="#3a3a3a" stroke-width="2.2" fill="none"/>
<path d="M2065 1530 L2118 1530 Q2144 1530 2144 1556 L2144 1712 Q2144 1738 2118 1738 L2065 1738" stroke="#3a3a3a" stroke-width="4.2" fill="none"/>
<path d="M2065 1530 L2118 1530 Q2144 1530 2144 1556 L2144 1712 Q2144 1738 2118 1738 L2065 1738" stroke="#fff" stroke-width="1.3" fill="none"/>
<circle cx="2101" cy="1635" r="8.8" stroke="#3a3a3a" stroke-width="2.2" fill="none"/>
<path d="M2057 2393 L2109.5 2393 Q2135.5 2393 2135.5 2419 L2135.5 2572.5 Q2135.5 2598.5 2109.5 2598.5 L2057 2598.5" stroke="#3a3a3a" stroke-width="4.2" fill="none"/>
<path d="M2057 2393 L2109.5 2393 Q2135.5 2393 2135.5 2419 L2135.5 2572.5 Q2135.5 2598.5 2109.5 2598.5 L2057 2598.5" stroke="#fff" stroke-width="1.3" fill="none"/>
<circle cx="2093.8" cy="2496.8" r="8.5" stroke="#3a3a3a" stroke-width="2.2" fill="none"/>
<text x="2083" y="1012" font-size="20" text-anchor="start" fill="#2e2e2e" font-weight="normal" textLength="157" lengthAdjust="spacingAndGlyphs" stroke="#2e2e2e" stroke-width="0.5">WINDOW WELL</text>
<text x="2083" y="1032" font-size="20" text-anchor="start" fill="#2e2e2e" font-weight="normal" textLength="158" lengthAdjust="spacingAndGlyphs" stroke="#2e2e2e" stroke-width="0.5">+ DRAIN ( TYP.)</text>
<text x="1953" y="2549" font-size="20" text-anchor="start" fill="#2e2e2e" font-weight="normal" textLength="93" lengthAdjust="spacingAndGlyphs" transform="rotate(-90 1953 2549)" stroke="#2e2e2e" stroke-width="0.5">48" HIGH</text>
<text x="1973" y="2549.6" font-size="20" text-anchor="start" fill="#2e2e2e" font-weight="normal" textLength="93" lengthAdjust="spacingAndGlyphs" transform="rotate(-90 1973 2549.6)" stroke="#2e2e2e" stroke-width="0.5">WINDOW</text>
<path d="M1731.6 1641.4 L1731.6 1496.5 L1996.6 1498.2" stroke="#3a3a3a" stroke-width="3.3" fill="none"/>
<path d="M1745.0 1641.4 L1745.0 1510.3 L1995.0 1511.6" stroke="#3a3a3a" stroke-width="3.3" fill="none"/>
<path d="M1743.7 1754.3 L1995.0 1755.5" stroke="#3a3a3a" stroke-width="3.3" fill="none"/>
<rect x="1729" y="1635" width="16" height="7.6" rx="0" stroke="#3a3a3a" stroke-width="2.5" fill="none"/>
<rect x="1728" y="1738.5" width="17" height="43.5" rx="0" stroke="#3a3a3a" stroke-width="2.8" fill="none"/>
<path d="M1745.0 1586.8 L1890.5 1586.8 L1890.5 1511.6" stroke="#3a3a3a" stroke-width="2.5" fill="none"/>
<rect x="1783.7" y="1525" width="69.7" height="52" rx="0" stroke="#3a3a3a" stroke-width="2.5" fill="none"/>
<rect x="1790.3" y="1535.3" width="56.5" height="34.5" rx="0" stroke="#3a3a3a" stroke-width="2.5" fill="none"/>
<path d="M1905.0 1514.0 L1981.6 1514.0 L1981.6 1542.6 L1969.4 1542.6 L1957.3 1606.2 L1929.4 1606.2 L1916.0 1542.6 L1905.0 1542.6 L1905.0 1514.0" stroke="#3a3a3a" stroke-width="2.5" fill="none"/>
<path d="M1791.0 1587.0 L1791.0 1754.0" stroke="#3a3a3a" stroke-width="1.8" fill="none"/>
<path d="M1832.3 1587.0 L1832.3 1754.0" stroke="#3a3a3a" stroke-width="1.8" fill="none"/>
<path d="M1873.5 1587.0 L1873.5 1754.0" stroke="#3a3a3a" stroke-width="1.8" fill="none"/>
<path d="M1914.8 1542.6 L1914.8 1754.0" stroke="#3a3a3a" stroke-width="1.8" fill="none"/>
<path d="M1956.0 1606.0 L1956.0 1754.0" stroke="#3a3a3a" stroke-width="1.8" fill="none"/>
<path d="M1748.5 1587.0 L1748.5 1754.0" stroke="#3a3a3a" stroke-width="1.8" fill="none"/>
<path d="M1890.5 1532.0 L1905.0 1532.0" stroke="#3a3a3a" stroke-width="1.8" fill="none"/>
<path d="M1981.6 1532.0 L1995.0 1532.0" stroke="#3a3a3a" stroke-width="1.8" fill="none"/>
<path d="M1890.5 1573.4 L1919.0 1573.4" stroke="#3a3a3a" stroke-width="1.8" fill="none"/>
<path d="M1966.0 1573.4 L1995.0 1573.4" stroke="#3a3a3a" stroke-width="1.8" fill="none"/>
<path d="M1738.8 1614.7 L1995.0 1614.7" stroke="#3a3a3a" stroke-width="1.8" fill="none"/>
<path d="M1738.8 1657.0 L1995.0 1657.0" stroke="#3a3a3a" stroke-width="1.8" fill="none"/>
<path d="M1738.8 1699.2 L1995.0 1699.2" stroke="#3a3a3a" stroke-width="1.8" fill="none"/>
<path d="M1738.8 1741.0 L1995.0 1741.0" stroke="#3a3a3a" stroke-width="1.8" fill="none"/>
<path d="M1738.8 1643.0 L1738.8 1739.0" stroke="#3a3a3a" stroke-width="1.8" fill="none"/>
<path d="M1743.7 1739.7 L1811.7 1671.7" stroke="#3a3a3a" stroke-width="4.5" fill="none"/>
<path d="M1743.7 1739.7 L1811.7 1671.7" stroke="#fff" stroke-width="1.3" fill="none"/>
<path d="M1811.7 1671.7 Q1790 1645 1738.8 1643.8" stroke="#3a3a3a" stroke-width="1.8" fill="none"/>
<text x="1751" y="1670.5" font-size="18" text-anchor="start" fill="#2e2e2e" font-weight="normal" textLength="19" lengthAdjust="spacingAndGlyphs" stroke="#2e2e2e" stroke-width="0.5">TL</text>
<text x="1908" y="1478" font-size="21" text-anchor="start" fill="#2e2e2e" font-weight="normal" textLength="43" lengthAdjust="spacingAndGlyphs" transform="rotate(-90 1908 1478)" stroke="#2e2e2e" stroke-width="0.5">18'-4"</text>
<path d="M1911.5 1437.0 L1911.5 1495.0" stroke="#3a3a3a" stroke-width="1.8" fill="none"/>
<path d="M1902.0 1484.0 L1911.5 1495.0 L1921.0 1484.0" stroke="#3a3a3a" stroke-width="2.5" fill="none"/>
<path d="M1743.7 1768.8 L1993.7 1770.0" stroke="#3a3a3a" stroke-width="3.3" fill="none"/>
<path d="M1740.9 2004.4 L1991.5 2004.4" stroke="#3a3a3a" stroke-width="3.3" fill="none"/>
<path d="M1726.7 1892.4 L1726.7 2004.0 L1700.0 2003.8" stroke="#3a3a3a" stroke-width="3.3" fill="none"/>
<path d="M1741.8 1892.4 L1741.8 2004.4" stroke="#3a3a3a" stroke-width="3.3" fill="none"/>
<rect x="1726.7" y="1892.4" width="15" height="7" rx="0" stroke="#3a3a3a" stroke-width="2.5" fill="none"/>
<path d="M1736.0 1782.0 L1736.0 1892.0" stroke="#3a3a3a" stroke-width="1.8" fill="none"/>
<path d="M1747.3 1770.0 L1747.3 2004.0" stroke="#3a3a3a" stroke-width="1.8" fill="none"/>
<path d="M1787.0 1770.0 L1787.0 2004.0" stroke="#3a3a3a" stroke-width="1.8" fill="none"/>
<path d="M1828.8 1770.0 L1828.8 2004.0" stroke="#3a3a3a" stroke-width="1.8" fill="none"/>
<path d="M1869.7 1770.0 L1869.7 2004.0" stroke="#3a3a3a" stroke-width="1.8" fill="none"/>
<path d="M1911.5 1770.0 L1911.5 2004.0" stroke="#3a3a3a" stroke-width="1.8" fill="none"/>
<path d="M1953.2 1770.0 L1953.2 2004.0" stroke="#3a3a3a" stroke-width="1.8" fill="none"/>
<path d="M1736.0 1783.4 L1991.0 1783.4" stroke="#3a3a3a" stroke-width="1.8" fill="none"/>
<path d="M1736.0 1824.7 L1991.0 1824.7" stroke="#3a3a3a" stroke-width="1.8" fill="none"/>
<path d="M1736.0 1865.8 L1991.0 1865.8" stroke="#3a3a3a" stroke-width="1.8" fill="none"/>
<path d="M1736.0 1907.5 L1991.0 1907.5" stroke="#3a3a3a" stroke-width="1.8" fill="none"/>
<path d="M1736.0 1950.2 L1991.0 1950.2" stroke="#3a3a3a" stroke-width="1.8" fill="none"/>
<path d="M1736.0 1992.0 L1991.0 1992.0" stroke="#3a3a3a" stroke-width="1.8" fill="none"/>
<path d="M1741.3 1784.6 L1819.0 1861.3" stroke="#3a3a3a" stroke-width="4.5" fill="none"/>
<path d="M1741.3 1784.6 L1819.0 1861.3" stroke="#fff" stroke-width="1.3" fill="none"/>
<path d="M1819 1861.3 Q1795 1890 1744.4 1893.3" stroke="#3a3a3a" stroke-width="1.8" fill="none"/>
<text x="1745.3" y="1873.8" font-size="18" text-anchor="start" fill="#2e2e2e" font-weight="normal" textLength="21" lengthAdjust="spacingAndGlyphs" stroke="#2e2e2e" stroke-width="0.5">TL</text>
<rect x="1796" y="1876" width="161" height="20" fill="#fff"/>
<text x="1798.3" y="1893.3" font-size="19" text-anchor="start" fill="#2e2e2e" font-weight="normal" textLength="157" lengthAdjust="spacingAndGlyphs" stroke="#2e2e2e" stroke-width="0.5">ROUGH-IN W/D</text>
<rect x="1768.4" y="1900.4" width="97" height="97.8" rx="0" stroke="#3a3a3a" stroke-width="2.2" fill="none" stroke-dasharray="20 14"/>
<rect x="1869.7" y="1900.4" width="97" height="97.8" rx="0" stroke="#3a3a3a" stroke-width="2.2" fill="none" stroke-dasharray="20 14"/>
<text x="1779" y="1925.3" font-size="20" text-anchor="start" fill="#2e2e2e" font-weight="normal" textLength="19" lengthAdjust="spacingAndGlyphs" stroke="#2e2e2e" stroke-width="0.5">W</text>
<text x="1883" y="1925.3" font-size="20" text-anchor="start" fill="#2e2e2e" font-weight="normal" textLength="14" lengthAdjust="spacingAndGlyphs" stroke="#2e2e2e" stroke-width="0.5">D</text>
<path d="M1694.7 2004.7 L1702.3 2004.7 L1702.3 2018.0 L1726.0 2018.0 L1726.0 2166.8" stroke="#3a3a3a" stroke-width="3" fill="none"/>
<path d="M1694.7 2004.7 L1694.7 2017.0 L1702.3 2017.0" stroke="#3a3a3a" stroke-width="2.5" fill="none"/>
<path d="M1740.2 2019.0 L1947.8 2019.0 L1947.8 2129.9 L1989.5 2130.4" stroke="#3a3a3a" stroke-width="3.3" fill="none"/>
<path d="M1740.2 2019.0 L1740.2 2160.0" stroke="#3a3a3a" stroke-width="3.3" fill="none"/>
<rect x="1746" y="2026.5" width="196" height="87.2" rx="15" stroke="#3a3a3a" stroke-width="2.2" fill="none"/>
<rect x="1724" y="2160" width="13.4" height="7.8" rx="0" stroke="#3a3a3a" stroke-width="2.5" fill="none"/>
<rect x="1723" y="2263.5" width="14.4" height="8.5" rx="0" stroke="#3a3a3a" stroke-width="2.5" fill="none"/>
<path d="M1722.2 2264.5 L1722.2 2395.0 L1986.7 2395.0" stroke="#3a3a3a" stroke-width="3.3" fill="none"/>
<path d="M1737.4 2272.0 L1737.4 2381.0 L1987.6 2381.0" stroke="#3a3a3a" stroke-width="3.3" fill="none"/>
<path d="M1742.0 2130.0 L1742.0 2304.0" stroke="#3a3a3a" stroke-width="1.8" fill="none"/>
<path d="M1730.0 2168.0 L1730.0 2264.0" stroke="#3a3a3a" stroke-width="1.6" fill="none"/>
<path d="M1784.2 2130.0 L1784.2 2304.0" stroke="#3a3a3a" stroke-width="1.8" fill="none"/>
<path d="M1826.0 2130.0 L1826.0 2304.0" stroke="#3a3a3a" stroke-width="1.8" fill="none"/>
<path d="M1867.3 2130.0 L1867.3 2304.0" stroke="#3a3a3a" stroke-width="1.8" fill="none"/>
<path d="M1909.5 2130.0 L1907.0 2350.0" stroke="#3a3a3a" stroke-width="1.8" fill="none"/>
<path d="M1950.7 2130.0 L1950.7 2288.0" stroke="#3a3a3a" stroke-width="1.8" fill="none"/>
<path d="M1730.0 2157.7 L1989.0 2157.7" stroke="#3a3a3a" stroke-width="1.8" fill="none"/>
<path d="M1730.0 2199.4 L1989.0 2199.4" stroke="#3a3a3a" stroke-width="1.8" fill="none"/>
<path d="M1730.0 2241.7 L1989.0 2241.7" stroke="#3a3a3a" stroke-width="1.8" fill="none"/>
<path d="M1730.0 2283.4 L1989.0 2283.4" stroke="#3a3a3a" stroke-width="1.8" fill="none"/>
<path d="M1882.4 2326.0 L1907.0 2326.0" stroke="#3a3a3a" stroke-width="1.8" fill="none"/>
<path d="M1958.0 2326.0 L1988.0 2326.0" stroke="#3a3a3a" stroke-width="1.8" fill="none"/>
<path d="M1882.4 2372.0 L1895.7 2372.0" stroke="#3a3a3a" stroke-width="1.8" fill="none"/>
<path d="M1973.4 2372.0 L1988.0 2372.0" stroke="#3a3a3a" stroke-width="1.8" fill="none"/>
<path d="M1739.3 2304.3 L1882.4 2304.3 L1882.4 2381.0" stroke="#3a3a3a" stroke-width="2.5" fill="none"/>
<rect x="1775.3" y="2314.7" width="69.7" height="52.1" rx="0" stroke="#3a3a3a" stroke-width="2.5" fill="none"/>
<rect x="1782.5" y="2322" width="55.7" height="35" rx="0" stroke="#3a3a3a" stroke-width="2.5" fill="none"/>
<path d="M1895.7 2381.0 L1895.7 2350.7 L1907.0 2350.7 L1921.3 2288.0 L1948.8 2288.0 L1962.0 2350.7 L1973.4 2350.7 L1973.4 2381.0" stroke="#3a3a3a" stroke-width="2.5" fill="none"/>
<path d="M1736.4 2168.7 L1804.7 2238.0" stroke="#3a3a3a" stroke-width="4.5" fill="none"/>
<path d="M1736.4 2168.7 L1804.7 2238.0" stroke="#fff" stroke-width="1.3" fill="none"/>
<path d="M1804.7 2238 Q1785 2262 1737.4 2265.4" stroke="#3a3a3a" stroke-width="1.8" fill="none"/>
<text x="1746" y="2252" font-size="18" text-anchor="start" fill="#2e2e2e" font-weight="normal" textLength="22" lengthAdjust="spacingAndGlyphs" stroke="#2e2e2e" stroke-width="0.5">TL</text>
<rect x="313.6" y="2931.7" width="305" height="72" rx="0" stroke="#3a3a3a" stroke-width="2.2" fill="none"/>
<text x="321.7" y="2954.6" font-size="19" text-anchor="start" fill="#2e2e2e" font-weight="normal" textLength="60" lengthAdjust="spacingAndGlyphs" stroke="#2e2e2e" stroke-width="0.5">NOTE:</text>
<path d="M321.7 2956.0 L382.0 2956.0" stroke="#3a3a3a" stroke-width="1.8" fill="none"/>
<text x="321.7" y="2974.9" font-size="19" text-anchor="start" fill="#2e2e2e" font-weight="normal" textLength="199" lengthAdjust="spacingAndGlyphs" stroke="#2e2e2e" stroke-width="0.5">9'-0" HIGH CEILING</text>
<text x="321.7" y="2995.1" font-size="19" text-anchor="start" fill="#2e2e2e" font-weight="normal" textLength="275" lengthAdjust="spacingAndGlyphs" stroke="#2e2e2e" stroke-width="0.5">THROUGHOUT BASEMENT</text>
<text x="313.6" y="3057.3" font-size="43" text-anchor="start" fill="#2e2e2e" font-weight="normal" textLength="235" lengthAdjust="spacingAndGlyphs" stroke="#2e2e2e" stroke-width="0.6">BASEMENT</text>
<text x="313.6" y="3097.8" font-size="43" text-anchor="start" fill="#2e2e2e" font-weight="normal" textLength="270" lengthAdjust="spacingAndGlyphs" stroke="#2e2e2e" stroke-width="0.6">TYPE BH-501</text>
<text x="312.7" y="3138" font-size="43" text-anchor="start" fill="#2e2e2e" font-weight="normal" textLength="456" lengthAdjust="spacingAndGlyphs" stroke="#2e2e2e" stroke-width="0.6">FIN. AREA = 1600 SF.</text>
<defs><filter id="wb" x="-5%" y="-60%" width="110%" height="220%"><feGaussianBlur stdDeviation="6"/></filter><clipPath id="wc"><rect x="766" y="3186" width="1020" height="68"/></clipPath></defs>
<g clip-path="url(#wc)"><rect x="766" y="3198" width="1020" height="46" fill="#ececec" filter="url(#wb)"/><text x="768" y="3238" font-size="54" fill="#b4b4b4" stroke="#b4b4b4" stroke-width="6" filter="url(#wb)" textLength="1016" lengthAdjust="spacingAndGlyphs">ASHLEY G. REALTY INC., Brokerage</text></g>
<rect x="808.4" y="3085.4" width="638" height="151" rx="0" stroke="#3a3a3a" stroke-width="3" fill="none"/>
<text x="822.3" y="3156.7" font-size="90" text-anchor="start" fill="#333" font-weight="normal" textLength="616" lengthAdjust="spacingAndGlyphs" stroke="#333" stroke-width="0.8">PRELIMINARY</text>
<text x="876.7" y="3194" font-size="38" text-anchor="start" fill="#333" font-weight="bold" textLength="517" lengthAdjust="spacingAndGlyphs">NOT FOR BUILDING PERMIT</text>
<text x="882.7" y="3226" font-size="38" text-anchor="start" fill="#333" font-weight="bold" textLength="496" lengthAdjust="spacingAndGlyphs">NOT FOR CONSTRUCTION</text>
<text x="768" y="3238" font-size="54" fill="#ffffff" opacity="0.75" textLength="1016" lengthAdjust="spacingAndGlyphs">ASHLEY G. REALTY INC., Brokerage</text>
</svg></body></html>
